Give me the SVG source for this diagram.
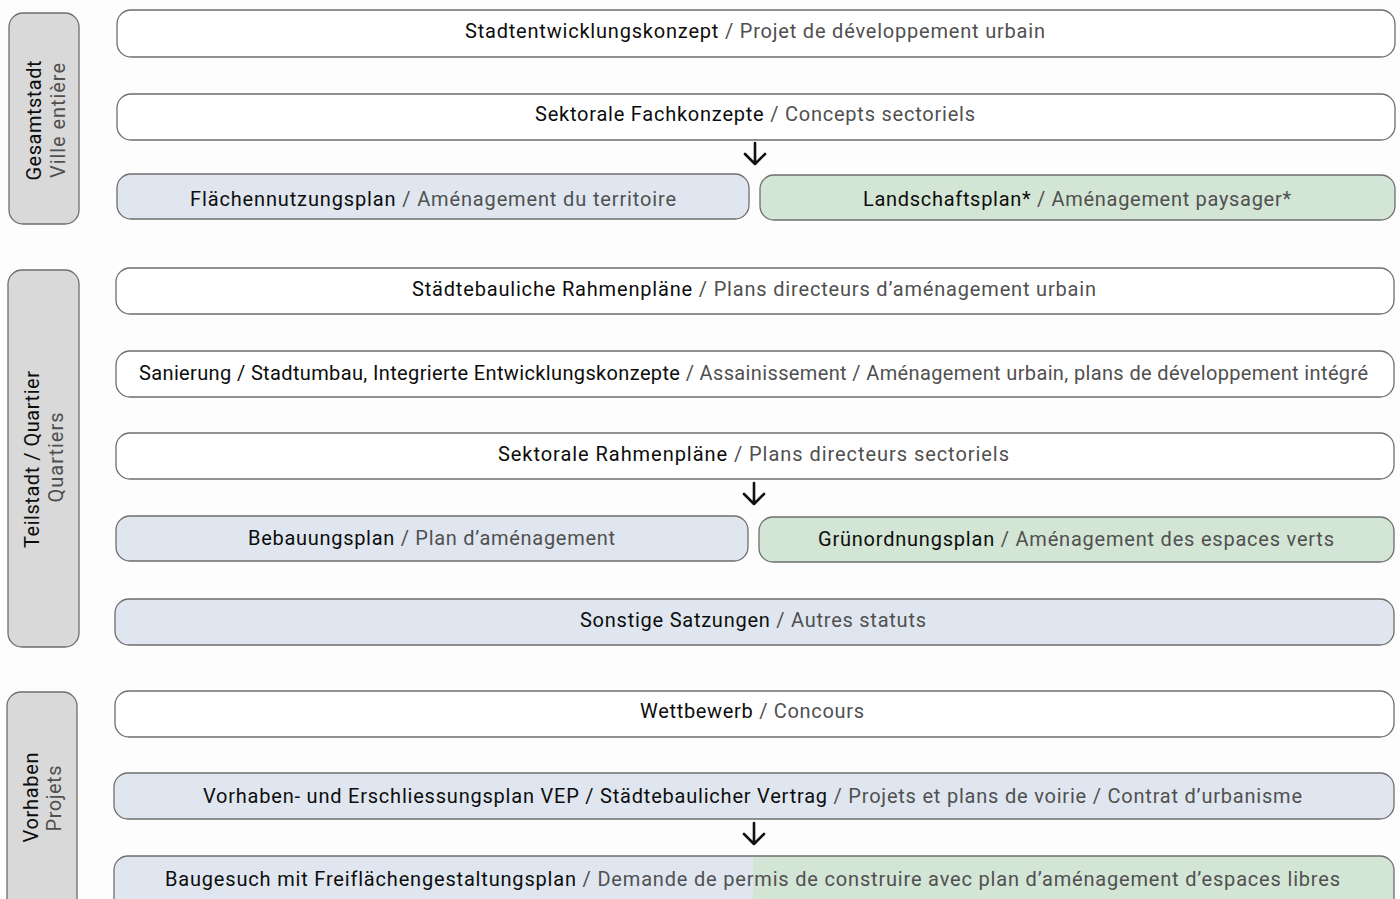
<svg xmlns="http://www.w3.org/2000/svg" width="1400" height="899" viewBox="0 0 1400 899">
<defs>
<style>
.bx{stroke:#6e6e6e;stroke-width:1.3}
.w{fill:#ffffff}
.b{fill:#dfe6ef}
.g{fill:#d3e5d5}
.s{fill:#d9d9d9;stroke:#6e6e6e;stroke-width:1.3}
text{font-family:Roboto,"Liberation Sans",sans-serif;font-size:20px;letter-spacing:1px}
.de{fill:#0d0d0d;font-weight:400}
.fr{fill:#505050;font-weight:400}
.arr{fill:none;stroke:#111;stroke-width:2.6;stroke-linecap:round;stroke-linejoin:round}
</style>
<linearGradient id="split" gradientUnits="userSpaceOnUse" x1="116" y1="0" x2="1394" y2="0">
<stop offset="0.4985" stop-color="#dfe6ef"/>
<stop offset="0.4985" stop-color="#d3e5d5"/>
</linearGradient>
</defs>
<rect width="1400" height="899" fill="#fdfdfd"/>

<g id="side-gesamtstadt">
<rect class="s" x="9" y="13" width="70" height="211" rx="14"/>
<text transform="translate(41,120) rotate(-90)" text-anchor="middle" textLength="121" class="de">Gesamtstadt</text>
<text transform="translate(65,120) rotate(-90)" text-anchor="middle" textLength="116" class="fr">Ville entière</text>
</g>
<g id="side-teilstadt">
<rect class="s" x="8" y="270" width="71" height="377" rx="14"/>
<text transform="translate(39,459) rotate(-90)" text-anchor="middle" textLength="178" class="de">Teilstadt / Quartier</text>
<text transform="translate(63,457) rotate(-90)" text-anchor="middle" textLength="91" class="fr">Quartiers</text>
</g>
<g id="side-vorhaben">
<rect class="s" x="7" y="692" width="70" height="230" rx="14"/>
<text transform="translate(38,797) rotate(-90)" text-anchor="middle" textLength="91" class="de">Vorhaben</text>
<text transform="translate(61,798) rotate(-90)" text-anchor="middle" textLength="67" class="fr">Projets</text>
</g>

<g id="n1">
<rect class="bx w" x="117" y="10" width="1278" height="47" rx="14"/>
<text x="755.5" y="38" text-anchor="middle" textLength="581"><tspan class="de">Stadtentwicklungskonzept</tspan><tspan class="fr"> / Projet de développement urbain</tspan></text>
</g>
<g id="n2">
<rect class="bx w" x="117" y="94" width="1278" height="46" rx="14"/>
<text x="755.5" y="121" text-anchor="middle" textLength="441"><tspan class="de">Sektorale Fachkonzepte</tspan><tspan class="fr"> / Concepts sectoriels</tspan></text>
</g>
<g id="n3">
<rect class="bx b" x="117" y="174" width="632" height="45" rx="14"/>
<text x="433.5" y="206" text-anchor="middle" textLength="487"><tspan class="de">Flächennutzungsplan</tspan><tspan class="fr"> / Aménagement du territoire</tspan></text>
</g>
<g id="n4">
<rect class="bx g" x="760" y="175" width="635" height="45" rx="14"/>
<text x="1077.5" y="206" text-anchor="middle" textLength="429"><tspan class="de">Landschaftsplan*</tspan><tspan class="fr"> / Aménagement paysager*</tspan></text>
</g>
<g id="n5">
<rect class="bx w" x="116" y="268" width="1278" height="46" rx="14"/>
<text x="754.5" y="296" text-anchor="middle" textLength="685"><tspan class="de">Städtebauliche Rahmenpläne</tspan><tspan class="fr"> / Plans directeurs d’aménagement urbain</tspan></text>
</g>
<g id="n6">
<rect class="bx w" x="116" y="351" width="1278" height="46" rx="14"/>
<text x="754" y="380" text-anchor="middle" textLength="1230"><tspan class="de">Sanierung / Stadtumbau, Integrierte Entwicklungskonzepte</tspan><tspan class="fr"> / Assainissement / Aménagement urbain, plans de développement intégré</tspan></text>
</g>
<g id="n7">
<rect class="bx w" x="116" y="433" width="1278" height="46" rx="14"/>
<text x="754" y="461" text-anchor="middle" textLength="512"><tspan class="de">Sektorale Rahmenpläne</tspan><tspan class="fr"> / Plans directeurs sectoriels</tspan></text>
</g>
<g id="n8">
<rect class="bx b" x="116" y="516" width="632" height="45" rx="14"/>
<text x="432" y="545" text-anchor="middle" textLength="368"><tspan class="de">Bebauungsplan</tspan><tspan class="fr"> / Plan d’aménagement</tspan></text>
</g>
<g id="n9">
<rect class="bx g" x="759" y="517" width="635" height="45" rx="14"/>
<text x="1076.5" y="546" text-anchor="middle" textLength="517"><tspan class="de">Grünordnungsplan</tspan><tspan class="fr"> / Aménagement des espaces verts</tspan></text>
</g>
<g id="n10">
<rect class="bx b" x="115" y="599" width="1279" height="46" rx="14"/>
<text x="753.5" y="627" text-anchor="middle" textLength="347"><tspan class="de">Sonstige Satzungen</tspan><tspan class="fr"> / Autres statuts</tspan></text>
</g>
<g id="n11">
<rect class="bx w" x="115" y="691" width="1279" height="46" rx="14"/>
<text x="752.5" y="718" text-anchor="middle" textLength="225"><tspan class="de">Wettbewerb</tspan><tspan class="fr"> / Concours</tspan></text>
</g>
<g id="n12">
<rect class="bx b" x="114" y="773" width="1280" height="46" rx="14"/>
<text x="753" y="803" text-anchor="middle" textLength="1100"><tspan class="de">Vorhaben- und Erschliessungsplan VEP / Städtebaulicher Vertrag</tspan><tspan class="fr"> / Projets et plans de voirie / Contrat d’urbanisme</tspan></text>
</g>
<g id="n13">
<rect class="bx" fill="url(#split)" x="114" y="856" width="1280" height="70" rx="14"/>
<text x="753" y="886" text-anchor="middle" textLength="1176"><tspan class="de">Baugesuch mit Freiflächengestaltungsplan</tspan><tspan class="fr"> / Demande de permis de construire avec plan d’aménagement d’espaces libres</tspan></text>
</g>

<g id="connectors">
<path class="arr" d="M755,143 V164 M745,154 L755,164 L765,154"/>
<path class="arr" d="M754,483 V504 M744,494 L754,504 L764,494"/>
<path class="arr" d="M754,823 V844 M744,834 L754,844 L764,834"/>
</g>
</svg>
